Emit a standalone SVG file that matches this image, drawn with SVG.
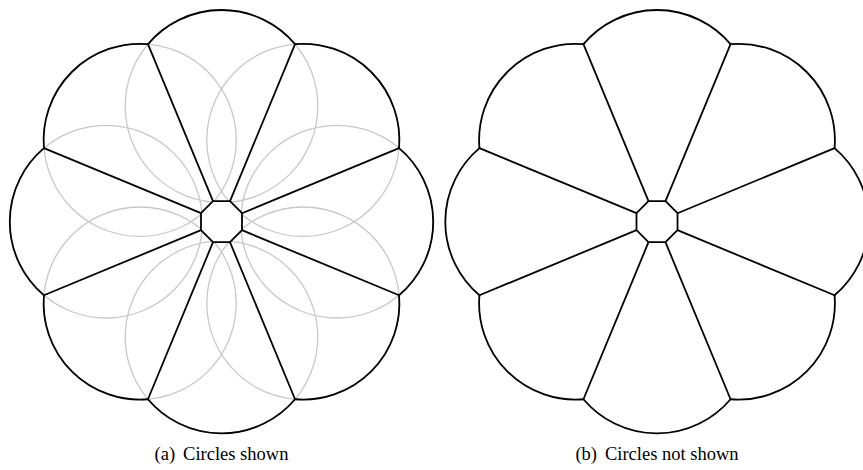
<svg xmlns="http://www.w3.org/2000/svg" width="863" height="470" viewBox="0 0 863 470">
  <style>
    .blk { fill: none; stroke: #000; stroke-width: 1.8; stroke-linejoin: round; stroke-linecap: round; }
    .gry { fill: none; stroke: #c8c8c8; stroke-width: 1.3; }
    .oct { fill: #fff; stroke: #000; stroke-width: 1.8; stroke-linejoin: round; }
    .cap { font-family: "Liberation Serif", "DejaVu Serif", serif; font-size: 18.5px; fill: #000; text-anchor: middle; }
  </style>
  <defs>
    <g id="petal">
      <path class="blk" d="M -73.55 -177.57 A 96.3 96.3 0 0 1 73.55 -177.57"/>
      <line class="blk" x1="8.50" y1="-20.51" x2="73.55" y2="-177.57"/>
    </g>
    <circle id="gc" class="gry" cx="0" cy="-115.4" r="96.3"/>
    <polygon id="octagon" class="oct" points="20.51,8.50 8.50,20.51 -8.50,20.51 -20.51,8.50 -20.51,-8.50 -8.50,-20.51 8.50,-20.51 20.51,-8.50"/>
    <g id="flower">
      <use href="#petal"/>
      <use href="#petal" transform="rotate(45)"/>
      <use href="#petal" transform="rotate(90)"/>
      <use href="#petal" transform="rotate(135)"/>
      <use href="#petal" transform="rotate(180)"/>
      <use href="#petal" transform="rotate(225)"/>
      <use href="#petal" transform="rotate(270)"/>
      <use href="#petal" transform="rotate(315)"/>
      <use href="#octagon"/>
    </g>
  </defs>

  <g id="figure-a" transform="translate(221.5 221.7)">
    <g id="circles">
      <use href="#gc"/>
      <use href="#gc" transform="rotate(45)"/>
      <use href="#gc" transform="rotate(90)"/>
      <use href="#gc" transform="rotate(135)"/>
      <use href="#gc" transform="rotate(180)"/>
      <use href="#gc" transform="rotate(225)"/>
      <use href="#gc" transform="rotate(270)"/>
      <use href="#gc" transform="rotate(315)"/>
    </g>
    <use href="#flower"/>
  </g>

  <g id="figure-b" transform="translate(657 221.7)">
    <use href="#flower"/>
  </g>

  <g id="captions">
    <text class="cap" x="221.5" y="460">(a)<tspan dx="8">Circles shown</tspan></text>
    <text class="cap" x="657" y="460">(b)<tspan dx="8">Circles not shown</tspan></text>
  </g>
</svg>
